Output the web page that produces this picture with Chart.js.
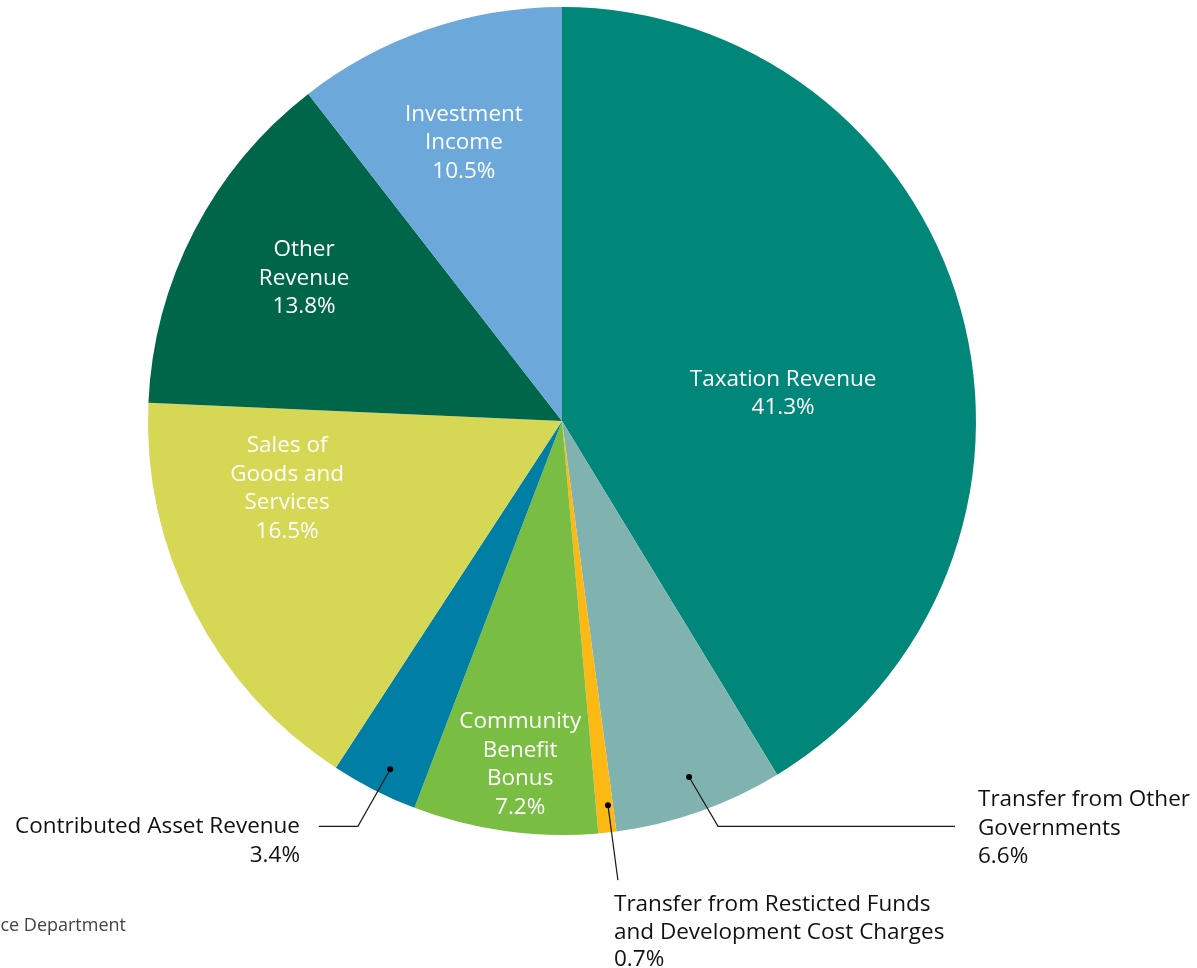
<!DOCTYPE html>
<html>
<head>
<meta charset="utf-8">
<script src="https://cdn.jsdelivr.net/npm/chart.js@4"></script>
<style>
html, body { margin: 0; padding: 0; background: #fff; }
#wrap { position: relative; width: 1197px; height: 968px; }
</style>
</head>
<body>
<div id="wrap"><canvas id="revPie" width="1197" height="968"></canvas></div>
<script>
// du lieu bieu do
const categories = ['Taxation Revenue', 'Transfer from Other Governments', 'Transfer from Resticted Funds and Development Cost Charges', 'Community Benefit Bonus', 'Contributed Asset Revenue', 'Sales of Goods and Services', 'Other Revenue', 'Investment Income'];
const shares = [41.3, 6.6, 0.7, 7.2, 3.4, 16.5, 13.8, 10.5];
const sliceColors = ['#00877a', '#80b3b0', '#fdb913', '#7abd43', '#007ea3', '#d5d755', '#00664a', '#6ca8da'];
const labelLines = [
  ['Taxation Revenue'],
  ['Transfer from Other', 'Governments'],
  ['Transfer from Resticted Funds', 'and Development Cost Charges'],
  ['Community', 'Benefit', 'Bonus'],
  ['Contributed Asset Revenue'],
  ['Sales of', 'Goods and', 'Services'],
  ['Other', 'Revenue'],
  ['Investment', 'Income']
];
const sourceNote = 'Source: City of Vancouver, Finance Department';

const FONT = '"Open Sans", sans-serif';
const LINE_H = 28.5;

// vi tri nhan (ti le theo ban kinh), inside = chu trang trong mieng
const labelPos = [
  { inside: true, fx: 0.534, fy: -0.066 },
  { inside: false, dot: [0.307, 0.860], elbow: [0.377, 0.979], end: [237, 0], x: 978, y: 800, align: 'left' },
  { inside: false, dot: [0.111, 0.928], end: null, tip: [0.135, 1.109], x: 614, y: 905, align: 'left', lh: 27.5 },
  { inside: true, fx: -0.101, fy: 0.830 },
  { inside: false, dot: [-0.415, 0.841], elbow: [-0.493, 0.979], end: [-39, 0], x: 300, y: 827, align: 'right' },
  { inside: true, fx: -0.664, fy: 0.163 },
  { inside: true, fx: -0.623, fy: -0.344 },
  { inside: true, fx: -0.237, fy: -0.672 }
];

const pieLabels = {
  id: 'pieLabels',
  afterDraw(chart) {
    const ctx = chart.ctx;
    const arc = chart.getDatasetMeta(0).data[0];
    const cx = arc.x, cy = arc.y, r = arc.outerRadius;
    ctx.save();
    ctx.font = '22.5px ' + FONT;
    ctx.textBaseline = 'middle';
    labelPos.forEach((p, i) => {
      const lines = labelLines[i].concat([shares[i].toFixed(1) + '%']);
      if (p.inside) {
        ctx.fillStyle = '#ffffff';
        ctx.textAlign = 'center';
        const x = cx + p.fx * r;
        const y0 = cy + p.fy * r - (lines.length - 1) * LINE_H / 2;
        lines.forEach((t, k) => ctx.fillText(t, x, y0 + k * LINE_H));
        return;
      }
      // duong dan + cham
      const dx = cx + p.dot[0] * r, dy = cy + p.dot[1] * r;
      ctx.strokeStyle = '#1a1a1a';
      ctx.lineWidth = 1.2;
      ctx.beginPath();
      ctx.moveTo(dx, dy);
      if (p.elbow) {
        const ex = cx + p.elbow[0] * r, ey = cy + p.elbow[1] * r;
        ctx.lineTo(ex, ey);
        ctx.lineTo(ex + p.end[0], ey + p.end[1]);
      } else {
        ctx.lineTo(cx + p.tip[0] * r, cy + p.tip[1] * r);
      }
      ctx.stroke();
      ctx.fillStyle = '#000';
      ctx.beginPath();
      ctx.arc(dx, dy, 3, 0, Math.PI * 2);
      ctx.fill();
      ctx.fillStyle = '#111111';
      ctx.textAlign = p.align;
      const lh = p.lh || LINE_H;
      lines.forEach((t, k) => ctx.fillText(t, p.x, p.y + k * lh));
    });
    // nguon (bi cat o mep trai)
    ctx.font = '18px ' + FONT;
    ctx.fillStyle = '#444';
    ctx.textAlign = 'right';
    ctx.fillText(sourceNote, 126, 926);
    ctx.restore();
  }
};

new Chart(document.getElementById('revPie'), {
  type: 'pie',
  data: {
    labels: categories,
    datasets: [{
      data: shares,
      backgroundColor: sliceColors,
      borderWidth: 0
    }]
  },
  options: {
    responsive: false,
    animation: false,
    layout: { padding: { left: 148, right: 221, top: 7, bottom: 133 } },
    plugins: { legend: { display: false }, tooltip: { enabled: false } }
  },
  plugins: [pieLabels]
});
</script>
</body>
</html>
